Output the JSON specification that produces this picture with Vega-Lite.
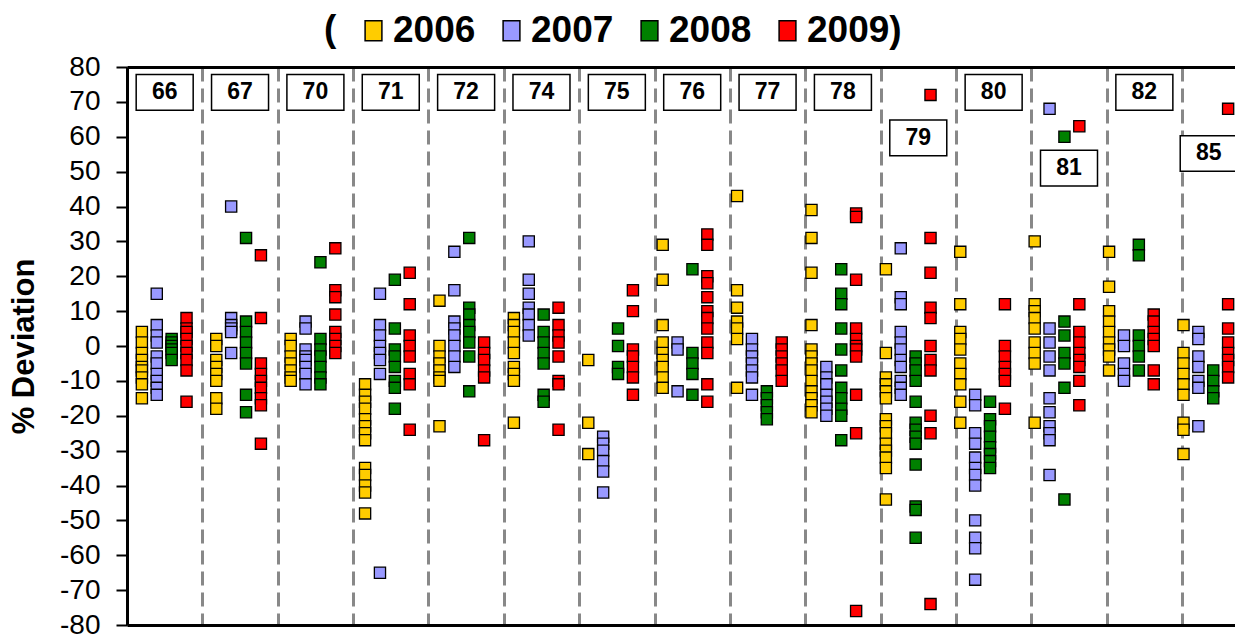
{
"$schema":"https://vega.github.io/schema/vega-lite/v6.json",
"width":1108,"height":558,
"autosize":{"type":"none"},
"padding":{"left":127,"top":67,"right":0,"bottom":10},
"config":{"view":{"stroke":null},"font":"Liberation Sans"},
"datasets":{
"labels":[{"group":"66","dev":72.7},{"group":"67","dev":72.7},{"group":"70","dev":72.7},{"group":"71","dev":72.7},{"group":"72","dev":72.7},{"group":"74","dev":72.7},{"group":"75","dev":72.7},{"group":"76","dev":72.7},{"group":"77","dev":72.7},{"group":"78","dev":72.7},{"group":"79","dev":59.7},{"group":"80","dev":72.7},{"group":"81","dev":51},{"group":"82","dev":72.7},{"group":"85","dev":55.2}],
"points":[
{"group":"66","year":"2006","dev":4},{"group":"66","year":"2006","dev":1},{"group":"66","year":"2006","dev":-2},{"group":"66","year":"2006","dev":-4},{"group":"66","year":"2006","dev":-6},{"group":"66","year":"2006","dev":-7},{"group":"66","year":"2006","dev":-9},{"group":"66","year":"2006","dev":-11},{"group":"66","year":"2006","dev":-15},
{"group":"66","year":"2007","dev":15},{"group":"66","year":"2007","dev":6},{"group":"66","year":"2007","dev":3},{"group":"66","year":"2007","dev":1},{"group":"66","year":"2007","dev":-3},{"group":"66","year":"2007","dev":-5},{"group":"66","year":"2007","dev":-8},{"group":"66","year":"2007","dev":-10},{"group":"66","year":"2007","dev":-12},{"group":"66","year":"2007","dev":-14},
{"group":"66","year":"2008","dev":2},{"group":"66","year":"2008","dev":1},{"group":"66","year":"2008","dev":0},{"group":"66","year":"2008","dev":-1},{"group":"66","year":"2008","dev":-2},{"group":"66","year":"2008","dev":-4},
{"group":"66","year":"2009","dev":8},{"group":"66","year":"2009","dev":5},{"group":"66","year":"2009","dev":4},{"group":"66","year":"2009","dev":2},{"group":"66","year":"2009","dev":0},{"group":"66","year":"2009","dev":-2},{"group":"66","year":"2009","dev":-4},{"group":"66","year":"2009","dev":-7},{"group":"66","year":"2009","dev":-16},
{"group":"67","year":"2006","dev":2},{"group":"67","year":"2006","dev":0},{"group":"67","year":"2006","dev":-4},{"group":"67","year":"2006","dev":-6},{"group":"67","year":"2006","dev":-8},{"group":"67","year":"2006","dev":-10},{"group":"67","year":"2006","dev":-15},{"group":"67","year":"2006","dev":-18},
{"group":"67","year":"2007","dev":40},{"group":"67","year":"2007","dev":8},{"group":"67","year":"2007","dev":6},{"group":"67","year":"2007","dev":5},{"group":"67","year":"2007","dev":4},{"group":"67","year":"2007","dev":-2},
{"group":"67","year":"2008","dev":31},{"group":"67","year":"2008","dev":7},{"group":"67","year":"2008","dev":4},{"group":"67","year":"2008","dev":1},{"group":"67","year":"2008","dev":-2},{"group":"67","year":"2008","dev":-5},{"group":"67","year":"2008","dev":-14},{"group":"67","year":"2008","dev":-19},
{"group":"67","year":"2009","dev":26},{"group":"67","year":"2009","dev":8},{"group":"67","year":"2009","dev":-5},{"group":"67","year":"2009","dev":-8},{"group":"67","year":"2009","dev":-10},{"group":"67","year":"2009","dev":-12},{"group":"67","year":"2009","dev":-15},{"group":"67","year":"2009","dev":-17},{"group":"67","year":"2009","dev":-28},
{"group":"70","year":"2006","dev":2},{"group":"70","year":"2006","dev":0},{"group":"70","year":"2006","dev":-3},{"group":"70","year":"2006","dev":-5},{"group":"70","year":"2006","dev":-7},{"group":"70","year":"2006","dev":-9},{"group":"70","year":"2006","dev":-10},
{"group":"70","year":"2007","dev":7},{"group":"70","year":"2007","dev":5},{"group":"70","year":"2007","dev":-1},{"group":"70","year":"2007","dev":-3},{"group":"70","year":"2007","dev":-4},{"group":"70","year":"2007","dev":-6},{"group":"70","year":"2007","dev":-8},{"group":"70","year":"2007","dev":-11},
{"group":"70","year":"2008","dev":24},{"group":"70","year":"2008","dev":2},{"group":"70","year":"2008","dev":-1},{"group":"70","year":"2008","dev":-3},{"group":"70","year":"2008","dev":-6},{"group":"70","year":"2008","dev":-9},{"group":"70","year":"2008","dev":-11},
{"group":"70","year":"2009","dev":28},{"group":"70","year":"2009","dev":16},{"group":"70","year":"2009","dev":14},{"group":"70","year":"2009","dev":9},{"group":"70","year":"2009","dev":4},{"group":"70","year":"2009","dev":2},{"group":"70","year":"2009","dev":0},{"group":"70","year":"2009","dev":-2},
{"group":"71","year":"2006","dev":-11},{"group":"71","year":"2006","dev":-14},{"group":"71","year":"2006","dev":-16},{"group":"71","year":"2006","dev":-18},{"group":"71","year":"2006","dev":-21},{"group":"71","year":"2006","dev":-23},{"group":"71","year":"2006","dev":-25},{"group":"71","year":"2006","dev":-27},{"group":"71","year":"2006","dev":-35},{"group":"71","year":"2006","dev":-37},{"group":"71","year":"2006","dev":-40},{"group":"71","year":"2006","dev":-42},{"group":"71","year":"2006","dev":-48},
{"group":"71","year":"2007","dev":15},{"group":"71","year":"2007","dev":6},{"group":"71","year":"2007","dev":3},{"group":"71","year":"2007","dev":0},{"group":"71","year":"2007","dev":-2},{"group":"71","year":"2007","dev":-4},{"group":"71","year":"2007","dev":-8},{"group":"71","year":"2007","dev":-65},
{"group":"71","year":"2008","dev":19},{"group":"71","year":"2008","dev":5},{"group":"71","year":"2008","dev":-1},{"group":"71","year":"2008","dev":-3},{"group":"71","year":"2008","dev":-6},{"group":"71","year":"2008","dev":-10},{"group":"71","year":"2008","dev":-12},{"group":"71","year":"2008","dev":-18},
{"group":"71","year":"2009","dev":21},{"group":"71","year":"2009","dev":12},{"group":"71","year":"2009","dev":3},{"group":"71","year":"2009","dev":0},{"group":"71","year":"2009","dev":-3},{"group":"71","year":"2009","dev":-8},{"group":"71","year":"2009","dev":-11},{"group":"71","year":"2009","dev":-24},
{"group":"72","year":"2006","dev":13},{"group":"72","year":"2006","dev":0},{"group":"72","year":"2006","dev":-3},{"group":"72","year":"2006","dev":-5},{"group":"72","year":"2006","dev":-7},{"group":"72","year":"2006","dev":-9},{"group":"72","year":"2006","dev":-10},{"group":"72","year":"2006","dev":-23},
{"group":"72","year":"2007","dev":27},{"group":"72","year":"2007","dev":16},{"group":"72","year":"2007","dev":7},{"group":"72","year":"2007","dev":5},{"group":"72","year":"2007","dev":3},{"group":"72","year":"2007","dev":0},{"group":"72","year":"2007","dev":-3},{"group":"72","year":"2007","dev":-6},
{"group":"72","year":"2008","dev":31},{"group":"72","year":"2008","dev":11},{"group":"72","year":"2008","dev":9},{"group":"72","year":"2008","dev":6},{"group":"72","year":"2008","dev":4},{"group":"72","year":"2008","dev":1},{"group":"72","year":"2008","dev":-3},{"group":"72","year":"2008","dev":-13},
{"group":"72","year":"2009","dev":1},{"group":"72","year":"2009","dev":-2},{"group":"72","year":"2009","dev":-4},{"group":"72","year":"2009","dev":-7},{"group":"72","year":"2009","dev":-9},{"group":"72","year":"2009","dev":-27},
{"group":"74","year":"2006","dev":8},{"group":"74","year":"2006","dev":6},{"group":"74","year":"2006","dev":4},{"group":"74","year":"2006","dev":1},{"group":"74","year":"2006","dev":-2},{"group":"74","year":"2006","dev":-6},{"group":"74","year":"2006","dev":-8},{"group":"74","year":"2006","dev":-10},{"group":"74","year":"2006","dev":-22},
{"group":"74","year":"2007","dev":30},{"group":"74","year":"2007","dev":19},{"group":"74","year":"2007","dev":15},{"group":"74","year":"2007","dev":11},{"group":"74","year":"2007","dev":9},{"group":"74","year":"2007","dev":6},{"group":"74","year":"2007","dev":3},
{"group":"74","year":"2008","dev":9},{"group":"74","year":"2008","dev":4},{"group":"74","year":"2008","dev":1},{"group":"74","year":"2008","dev":-2},{"group":"74","year":"2008","dev":-5},{"group":"74","year":"2008","dev":-14},{"group":"74","year":"2008","dev":-16},
{"group":"74","year":"2009","dev":11},{"group":"74","year":"2009","dev":6},{"group":"74","year":"2009","dev":3},{"group":"74","year":"2009","dev":1},{"group":"74","year":"2009","dev":-3},{"group":"74","year":"2009","dev":-10},{"group":"74","year":"2009","dev":-11},{"group":"74","year":"2009","dev":-24},
{"group":"75","year":"2006","dev":-4},{"group":"75","year":"2006","dev":-22},{"group":"75","year":"2006","dev":-31},
{"group":"75","year":"2007","dev":-26},{"group":"75","year":"2007","dev":-28},{"group":"75","year":"2007","dev":-30},{"group":"75","year":"2007","dev":-33},{"group":"75","year":"2007","dev":-36},{"group":"75","year":"2007","dev":-42},
{"group":"75","year":"2008","dev":5},{"group":"75","year":"2008","dev":0},{"group":"75","year":"2008","dev":-6},{"group":"75","year":"2008","dev":-8},
{"group":"75","year":"2009","dev":16},{"group":"75","year":"2009","dev":10},{"group":"75","year":"2009","dev":-1},{"group":"75","year":"2009","dev":-3},{"group":"75","year":"2009","dev":-6},{"group":"75","year":"2009","dev":-9},{"group":"75","year":"2009","dev":-14},
{"group":"76","year":"2006","dev":29},{"group":"76","year":"2006","dev":19},{"group":"76","year":"2006","dev":6},{"group":"76","year":"2006","dev":1},{"group":"76","year":"2006","dev":-2},{"group":"76","year":"2006","dev":-4},{"group":"76","year":"2006","dev":-6},{"group":"76","year":"2006","dev":-9},{"group":"76","year":"2006","dev":-12},
{"group":"76","year":"2007","dev":1},{"group":"76","year":"2007","dev":-1},{"group":"76","year":"2007","dev":-13},
{"group":"76","year":"2008","dev":22},{"group":"76","year":"2008","dev":-2},{"group":"76","year":"2008","dev":-5},{"group":"76","year":"2008","dev":-8},{"group":"76","year":"2008","dev":-14},
{"group":"76","year":"2009","dev":32},{"group":"76","year":"2009","dev":29},{"group":"76","year":"2009","dev":20},{"group":"76","year":"2009","dev":18},{"group":"76","year":"2009","dev":14},{"group":"76","year":"2009","dev":10},{"group":"76","year":"2009","dev":8},{"group":"76","year":"2009","dev":5},{"group":"76","year":"2009","dev":1},{"group":"76","year":"2009","dev":-2},{"group":"76","year":"2009","dev":-11},{"group":"76","year":"2009","dev":-16},
{"group":"77","year":"2006","dev":43},{"group":"77","year":"2006","dev":16},{"group":"77","year":"2006","dev":11},{"group":"77","year":"2006","dev":7},{"group":"77","year":"2006","dev":5},{"group":"77","year":"2006","dev":2},{"group":"77","year":"2006","dev":-12},
{"group":"77","year":"2007","dev":2},{"group":"77","year":"2007","dev":-1},{"group":"77","year":"2007","dev":-3},{"group":"77","year":"2007","dev":-5},{"group":"77","year":"2007","dev":-7},{"group":"77","year":"2007","dev":-9},{"group":"77","year":"2007","dev":-14},
{"group":"77","year":"2008","dev":-13},{"group":"77","year":"2008","dev":-15},{"group":"77","year":"2008","dev":-17},{"group":"77","year":"2008","dev":-19},{"group":"77","year":"2008","dev":-21},
{"group":"77","year":"2009","dev":1},{"group":"77","year":"2009","dev":-1},{"group":"77","year":"2009","dev":-3},{"group":"77","year":"2009","dev":-5},{"group":"77","year":"2009","dev":-7},{"group":"77","year":"2009","dev":-10},
{"group":"78","year":"2006","dev":39},{"group":"78","year":"2006","dev":31},{"group":"78","year":"2006","dev":21},{"group":"78","year":"2006","dev":6},{"group":"78","year":"2006","dev":-1},{"group":"78","year":"2006","dev":-3},{"group":"78","year":"2006","dev":-5},{"group":"78","year":"2006","dev":-7},{"group":"78","year":"2006","dev":-10},{"group":"78","year":"2006","dev":-13},{"group":"78","year":"2006","dev":-15},{"group":"78","year":"2006","dev":-17},{"group":"78","year":"2006","dev":-19},
{"group":"78","year":"2007","dev":-6},{"group":"78","year":"2007","dev":-9},{"group":"78","year":"2007","dev":-11},{"group":"78","year":"2007","dev":-14},{"group":"78","year":"2007","dev":-16},{"group":"78","year":"2007","dev":-18},{"group":"78","year":"2007","dev":-20},
{"group":"78","year":"2008","dev":22},{"group":"78","year":"2008","dev":15},{"group":"78","year":"2008","dev":12},{"group":"78","year":"2008","dev":5},{"group":"78","year":"2008","dev":-1},{"group":"78","year":"2008","dev":-7},{"group":"78","year":"2008","dev":-12},{"group":"78","year":"2008","dev":-15},{"group":"78","year":"2008","dev":-18},{"group":"78","year":"2008","dev":-20},{"group":"78","year":"2008","dev":-27},
{"group":"78","year":"2009","dev":38},{"group":"78","year":"2009","dev":37},{"group":"78","year":"2009","dev":19},{"group":"78","year":"2009","dev":5},{"group":"78","year":"2009","dev":2},{"group":"78","year":"2009","dev":0},{"group":"78","year":"2009","dev":-1},{"group":"78","year":"2009","dev":-3},{"group":"78","year":"2009","dev":-14},{"group":"78","year":"2009","dev":-25},{"group":"78","year":"2009","dev":-76},
{"group":"79","year":"2006","dev":22},{"group":"79","year":"2006","dev":-2},{"group":"79","year":"2006","dev":-9},{"group":"79","year":"2006","dev":-11},{"group":"79","year":"2006","dev":-13},{"group":"79","year":"2006","dev":-15},{"group":"79","year":"2006","dev":-21},{"group":"79","year":"2006","dev":-23},{"group":"79","year":"2006","dev":-25},{"group":"79","year":"2006","dev":-28},{"group":"79","year":"2006","dev":-30},{"group":"79","year":"2006","dev":-32},{"group":"79","year":"2006","dev":-35},{"group":"79","year":"2006","dev":-44},
{"group":"79","year":"2007","dev":28},{"group":"79","year":"2007","dev":14},{"group":"79","year":"2007","dev":12},{"group":"79","year":"2007","dev":4},{"group":"79","year":"2007","dev":1},{"group":"79","year":"2007","dev":-1},{"group":"79","year":"2007","dev":-4},{"group":"79","year":"2007","dev":-6},{"group":"79","year":"2007","dev":-10},{"group":"79","year":"2007","dev":-12},{"group":"79","year":"2007","dev":-14},
{"group":"79","year":"2008","dev":-3},{"group":"79","year":"2008","dev":-5},{"group":"79","year":"2008","dev":-7},{"group":"79","year":"2008","dev":-10},{"group":"79","year":"2008","dev":-16},{"group":"79","year":"2008","dev":-22},{"group":"79","year":"2008","dev":-24},{"group":"79","year":"2008","dev":-26},{"group":"79","year":"2008","dev":-28},{"group":"79","year":"2008","dev":-34},{"group":"79","year":"2008","dev":-46},{"group":"79","year":"2008","dev":-47},{"group":"79","year":"2008","dev":-55},
{"group":"79","year":"2009","dev":72},{"group":"79","year":"2009","dev":31},{"group":"79","year":"2009","dev":21},{"group":"79","year":"2009","dev":11},{"group":"79","year":"2009","dev":8},{"group":"79","year":"2009","dev":0},{"group":"79","year":"2009","dev":-4},{"group":"79","year":"2009","dev":-7},{"group":"79","year":"2009","dev":-20},{"group":"79","year":"2009","dev":-25},{"group":"79","year":"2009","dev":-74},
{"group":"80","year":"2006","dev":27},{"group":"80","year":"2006","dev":12},{"group":"80","year":"2006","dev":4},{"group":"80","year":"2006","dev":2},{"group":"80","year":"2006","dev":-1},{"group":"80","year":"2006","dev":-5},{"group":"80","year":"2006","dev":-8},{"group":"80","year":"2006","dev":-11},{"group":"80","year":"2006","dev":-16},{"group":"80","year":"2006","dev":-22},
{"group":"80","year":"2007","dev":-14},{"group":"80","year":"2007","dev":-17},{"group":"80","year":"2007","dev":-25},{"group":"80","year":"2007","dev":-28},{"group":"80","year":"2007","dev":-32},{"group":"80","year":"2007","dev":-35},{"group":"80","year":"2007","dev":-37},{"group":"80","year":"2007","dev":-40},{"group":"80","year":"2007","dev":-50},{"group":"80","year":"2007","dev":-55},{"group":"80","year":"2007","dev":-58},{"group":"80","year":"2007","dev":-67},
{"group":"80","year":"2008","dev":-16},{"group":"80","year":"2008","dev":-21},{"group":"80","year":"2008","dev":-23},{"group":"80","year":"2008","dev":-26},{"group":"80","year":"2008","dev":-29},{"group":"80","year":"2008","dev":-31},{"group":"80","year":"2008","dev":-33},{"group":"80","year":"2008","dev":-35},
{"group":"80","year":"2009","dev":12},{"group":"80","year":"2009","dev":0},{"group":"80","year":"2009","dev":-3},{"group":"80","year":"2009","dev":-6},{"group":"80","year":"2009","dev":-8},{"group":"80","year":"2009","dev":-10},{"group":"80","year":"2009","dev":-18},
{"group":"81","year":"2006","dev":30},{"group":"81","year":"2006","dev":12},{"group":"81","year":"2006","dev":10},{"group":"81","year":"2006","dev":8},{"group":"81","year":"2006","dev":5},{"group":"81","year":"2006","dev":1},{"group":"81","year":"2006","dev":-2},{"group":"81","year":"2006","dev":-5},{"group":"81","year":"2006","dev":-22},
{"group":"81","year":"2007","dev":68},{"group":"81","year":"2007","dev":5},{"group":"81","year":"2007","dev":1},{"group":"81","year":"2007","dev":-3},{"group":"81","year":"2007","dev":-7},{"group":"81","year":"2007","dev":-15},{"group":"81","year":"2007","dev":-19},{"group":"81","year":"2007","dev":-23},{"group":"81","year":"2007","dev":-25},{"group":"81","year":"2007","dev":-27},{"group":"81","year":"2007","dev":-37},
{"group":"81","year":"2008","dev":60},{"group":"81","year":"2008","dev":7},{"group":"81","year":"2008","dev":3},{"group":"81","year":"2008","dev":-2},{"group":"81","year":"2008","dev":-5},{"group":"81","year":"2008","dev":-12},{"group":"81","year":"2008","dev":-44},
{"group":"81","year":"2009","dev":63},{"group":"81","year":"2009","dev":12},{"group":"81","year":"2009","dev":4},{"group":"81","year":"2009","dev":1},{"group":"81","year":"2009","dev":-2},{"group":"81","year":"2009","dev":-4},{"group":"81","year":"2009","dev":-6},{"group":"81","year":"2009","dev":-10},{"group":"81","year":"2009","dev":-17},
{"group":"82","year":"2006","dev":27},{"group":"82","year":"2006","dev":17},{"group":"82","year":"2006","dev":10},{"group":"82","year":"2006","dev":7},{"group":"82","year":"2006","dev":4},{"group":"82","year":"2006","dev":1},{"group":"82","year":"2006","dev":-1},{"group":"82","year":"2006","dev":-3},{"group":"82","year":"2006","dev":-7},
{"group":"82","year":"2007","dev":3},{"group":"82","year":"2007","dev":0},{"group":"82","year":"2007","dev":-5},{"group":"82","year":"2007","dev":-8},{"group":"82","year":"2007","dev":-10},
{"group":"82","year":"2008","dev":29},{"group":"82","year":"2008","dev":26},{"group":"82","year":"2008","dev":3},{"group":"82","year":"2008","dev":0},{"group":"82","year":"2008","dev":-3},{"group":"82","year":"2008","dev":-7},
{"group":"82","year":"2009","dev":9},{"group":"82","year":"2009","dev":7},{"group":"82","year":"2009","dev":4},{"group":"82","year":"2009","dev":2},{"group":"82","year":"2009","dev":0},{"group":"82","year":"2009","dev":-7},{"group":"82","year":"2009","dev":-11},
{"group":"85","year":"2006","dev":6},{"group":"85","year":"2006","dev":-2},{"group":"85","year":"2006","dev":-5},{"group":"85","year":"2006","dev":-8},{"group":"85","year":"2006","dev":-11},{"group":"85","year":"2006","dev":-14},{"group":"85","year":"2006","dev":-22},{"group":"85","year":"2006","dev":-24},{"group":"85","year":"2006","dev":-31},
{"group":"85","year":"2007","dev":4},{"group":"85","year":"2007","dev":2},{"group":"85","year":"2007","dev":-3},{"group":"85","year":"2007","dev":-6},{"group":"85","year":"2007","dev":-10},{"group":"85","year":"2007","dev":-12},{"group":"85","year":"2007","dev":-23},
{"group":"85","year":"2008","dev":-7},{"group":"85","year":"2008","dev":-10},{"group":"85","year":"2008","dev":-13},{"group":"85","year":"2008","dev":-15},
{"group":"85","year":"2009","dev":68},{"group":"85","year":"2009","dev":12},{"group":"85","year":"2009","dev":5},{"group":"85","year":"2009","dev":1},{"group":"85","year":"2009","dev":-2},{"group":"85","year":"2009","dev":-4},{"group":"85","year":"2009","dev":-6},{"group":"85","year":"2009","dev":-9}
]},
"encoding":{"y":{"field":"dev","type":"quantitative","scale":{"domain":[-80,80],"nice":false,"zero":false},
"axis":{"values":[-80,-70,-60,-50,-40,-30,-20,-10,0,10,20,30,40,50,60,70,80],"labelExpr":"'' + datum.value","title":"% Deviation","titleFontSize":31,"titleFontWeight":"bold","titleColor":"black","titlePadding":19,"labelFontSize":28,"labelColor":"black","labelPadding":16,"tickSize":11,"tickWidth":2,"tickColor":"black","domainColor":"black","domainWidth":3,"grid":false}}},
"resolve":{"scale":{"x":"independent"},"axis":{"x":"independent"}},
"layer":[
{"data":{"values":[{}]},"mark":{"type":"rule","color":"#0000FF","strokeWidth":4},"encoding":{"y":{"datum":0}}},
{"data":{"name":"points"},
 "mark":{"type":"square","size":125,"stroke":"black","strokeWidth":1.3,"opacity":1},
 "encoding":{
  "x":{"field":"group","type":"nominal","scale":{"domain":["66","67","70","71","72","74","75","76","77","78","79","80","81","82","85"],"range":[0,1116],"paddingInner":0,"paddingOuter":0},
       "axis":{"orient":"top","title":null,"labels":false,"ticks":false,"domain":true,"domainColor":"black","domainWidth":3,"grid":false}},
  "xOffset":{"field":"year","type":"nominal","scale":{"type":"point","domain":["2006","2007","2008","2009"],"padding":1}},
  "color":{"field":"year","type":"nominal","scale":{"domain":["2006","2007","2008","2009"],"range":["#FFCC00","#9999FF","#008000","#FF0000"]},
    "legend":{"orient":"none","legendX":197,"legendY":-55,"direction":"horizontal","padding":0,"title":"(","titleOrient":"left","titleFontSize":37,"titleFontWeight":"bold","titleColor":"black","titlePadding":18,"labelFontSize":37,"labelFontWeight":"bold","labelColor":"black","labelOffset":1,"columnPadding":17,"labelLimit":0,"symbolType":"M-0.84,-1H0.84V1H-0.84Z","symbolSize":400,
      "labelExpr":"datum.label == '2009' ? '2009)' : datum.label",
      "encode":{"symbols":{"update":{"fill":{"signal":"datum.value === '2006' ? '#FFFF00' : scale('color', datum.value)"},"stroke":{"value":"#555555"},"strokeWidth":{"value":1},"opacity":{"value":1}}}}}}
 }},
{"data":{"name":"labels"},
 "encoding":{"x":{"field":"group","type":"nominal","scale":{"domain":["66","67","70","71","72","74","75","76","77","78","79","80","81","82","85"],"range":[0,1130.4],"paddingInner":0,"paddingOuter":0},
   "axis":{"orient":"bottom","title":null,"labels":false,"ticks":false,"domain":true,"domainColor":"black","domainWidth":3,"grid":true,"gridColor":"#888888","gridWidth":3,"gridDash":[14,7],"tickBand":"extent"}}},
 "layer":[
  {"mark":{"type":"point","shape":"M-1,-0.626H1V0.626H-1Z","size":3249,"filled":true,"fill":"white","stroke":"black","strokeWidth":1.5,"opacity":1,"xOffset":{"expr":"datum.group === '85' ? -11 : 0"}}},
  {"mark":{"type":"text","fontSize":23,"fontWeight":"bold","color":"black","baseline":"middle","align":"center","xOffset":{"expr":"datum.group === '85' ? -11 : 0"}},"encoding":{"text":{"field":"group"}}}
 ]}
]
}
